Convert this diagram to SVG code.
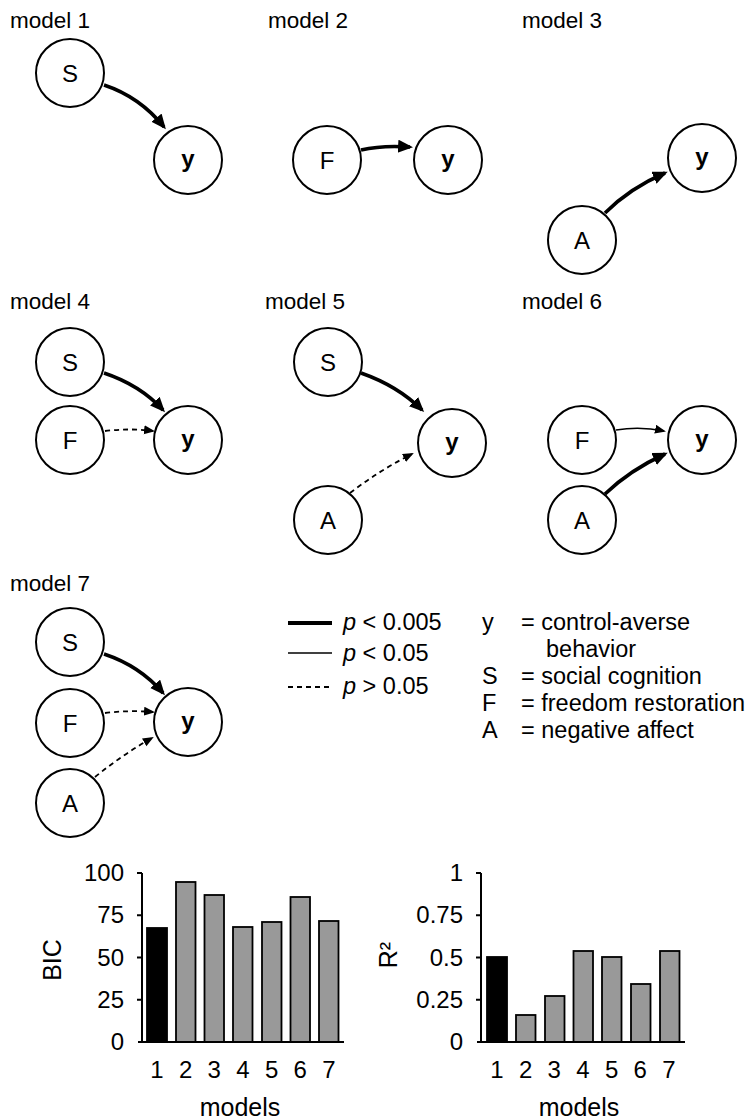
<svg xmlns="http://www.w3.org/2000/svg" width="748" height="1120" viewBox="0 0 748 1120">
<defs>
<style>
text{font-family:"Liberation Sans",Arial,Helvetica,sans-serif;fill:#000}
.lbl{font-size:22.5px}
.nd circle{fill:#fff;stroke:#000;stroke-width:2}
.nd text{font-size:24px;text-anchor:middle}
.yb{font-weight:bold}
.thick{fill:none;stroke:#000;stroke-width:3.6;marker-end:url(#ahk)}
.thin{fill:none;stroke:#000;stroke-width:1.6;marker-end:url(#ahn)}
.dash{fill:none;stroke:#000;stroke-width:1.8;stroke-dasharray:5 4;marker-end:url(#ahn)}
.tick{font-size:24px;text-anchor:end}
.xt{font-size:24px;text-anchor:middle}
.ttl{font-size:25px;text-anchor:middle}
.ax{stroke:#000;stroke-width:2;fill:none}
.bar{fill:#999;stroke:#000;stroke-width:1.8}
.barb{fill:#000;stroke:#000;stroke-width:1.8}
.leg{font-size:23.5px}
</style>
<marker id="ahk" markerUnits="userSpaceOnUse" markerWidth="16" markerHeight="14" refX="12" refY="6.5" orient="auto"><path d="M0,0 L15,6.5 L0,13 z" fill="#000"/></marker>
<marker id="ahn" markerUnits="userSpaceOnUse" markerWidth="12" markerHeight="10" refX="9" refY="4.5" orient="auto"><path d="M0,0 L11,4.5 L0,9 z" fill="#000"/></marker>
</defs>
<rect width="748" height="1120" fill="#fff"/>

<g id="titles">
<text class="lbl" x="10" y="28">model 1</text>
<text class="lbl" x="268" y="28">model 2</text>
<text class="lbl" x="522" y="28">model 3</text>
<text class="lbl" x="10" y="309">model 4</text>
<text class="lbl" x="265" y="309">model 5</text>
<text class="lbl" x="522" y="309">model 6</text>
<text class="lbl" x="10" y="591">model 7</text>
</g>

<g id="connectors">
<path class="thick" d="M104,85 Q140,97 164,127"/>
<path class="thick" d="M361,150 Q382,145 410,147"/>
<path class="thick" d="M605,213 Q630,188 665,173"/>
<path class="thick" d="M104,373 Q140,385 163,410"/>
<path class="dash" d="M105,431 Q130,428 153,431"/>
<path class="thick" d="M361,373 Q398,386 422,410"/>
<path class="dash" d="M350,493 Q380,470 412,454"/>
<path class="thin" d="M616,430 Q640,426 664,431"/>
<path class="thick" d="M605,494 Q630,470 665,454"/>
<path class="thick" d="M104,654 Q140,666 163,693"/>
<path class="dash" d="M105,713 Q130,710 153,712"/>
<path class="dash" d="M95,777 Q122,755 152,738"/>
</g>

<g id="m1-S" class="nd"><circle cx="70" cy="73" r="34"/><text x="70" y="82">S</text></g>
<g id="m1-y" class="nd"><circle cx="188" cy="160" r="34"/><text class="yb" x="188" y="167">y</text></g>

<g id="m2-F" class="nd"><circle cx="327" cy="160" r="34"/><text x="327" y="169">F</text></g>
<g id="m2-y" class="nd"><circle cx="448" cy="160" r="34"/><text class="yb" x="448" y="167">y</text></g>

<g id="m3-y" class="nd"><circle cx="702" cy="158" r="34"/><text class="yb" x="702" y="165">y</text></g>
<g id="m3-A" class="nd"><circle cx="582" cy="240" r="34"/><text x="582" y="249">A</text></g>

<g id="m4-S" class="nd"><circle cx="70" cy="362" r="34"/><text x="70" y="371">S</text></g>
<g id="m4-F" class="nd"><circle cx="70" cy="440" r="34"/><text x="70" y="449">F</text></g>
<g id="m4-y" class="nd"><circle cx="188" cy="440" r="34"/><text class="yb" x="188" y="447">y</text></g>

<g id="m5-S" class="nd"><circle cx="328" cy="362" r="34"/><text x="328" y="371">S</text></g>
<g id="m5-y" class="nd"><circle cx="452" cy="443" r="34"/><text class="yb" x="452" y="450">y</text></g>
<g id="m5-A" class="nd"><circle cx="328" cy="520" r="34"/><text x="328" y="529">A</text></g>

<g id="m6-F" class="nd"><circle cx="582" cy="440" r="34"/><text x="582" y="449">F</text></g>
<g id="m6-y" class="nd"><circle cx="702" cy="440" r="34"/><text class="yb" x="702" y="447">y</text></g>
<g id="m6-A" class="nd"><circle cx="582" cy="520" r="34"/><text x="582" y="529">A</text></g>

<g id="m7-S" class="nd"><circle cx="70" cy="642" r="34"/><text x="70" y="651">S</text></g>
<g id="m7-F" class="nd"><circle cx="70" cy="723" r="34"/><text x="70" y="732">F</text></g>
<g id="m7-y" class="nd"><circle cx="188" cy="722" r="34"/><text class="yb" x="188" y="729">y</text></g>
<g id="m7-A" class="nd"><circle cx="70" cy="803" r="34"/><text x="70" y="812">A</text></g>

<g id="legend-lines">
<line x1="288" y1="623" x2="332" y2="623" stroke="#000" stroke-width="4"/>
<line x1="288" y1="653" x2="332" y2="653" stroke="#000" stroke-width="1.6"/>
<line x1="288" y1="687" x2="332" y2="687" stroke="#000" stroke-width="1.8" stroke-dasharray="5 4"/>
<text class="leg" x="343" y="630"><tspan font-style="italic">p</tspan> &lt; 0.005</text>
<text class="leg" x="343" y="661"><tspan font-style="italic">p</tspan> &lt; 0.05</text>
<text class="leg" x="343" y="694"><tspan font-style="italic">p</tspan> &gt; 0.05</text>
</g>
<g id="legend-vars">
<text class="leg" x="482" y="630">y</text>
<text class="leg" x="521" y="630">= control-averse</text>
<text class="leg" x="546" y="657">behavior</text>
<text class="leg" x="482" y="684">S</text>
<text class="leg" x="521" y="684">= social cognition</text>
<text class="leg" x="482" y="711">F</text>
<text class="leg" x="521" y="711">= freedom restoration</text>
<text class="leg" x="482" y="738">A</text>
<text class="leg" x="521" y="738">= negative affect</text>
</g>

<g id="chart-bic">
<rect class="barb" x="147" y="928" width="20" height="114"/>
<rect class="bar" x="176" y="882" width="19.5" height="160"/>
<rect class="bar" x="204.5" y="895" width="19.5" height="147"/>
<rect class="bar" x="233" y="927" width="19.5" height="115"/>
<rect class="bar" x="262" y="922" width="19.5" height="120"/>
<rect class="bar" x="290.5" y="897" width="19.5" height="145"/>
<rect class="bar" x="319" y="921" width="19.5" height="121"/>
<path class="ax" d="M142,873 V1042 M138,1042 H344 M137,873 H142 M137,915.25 H142 M137,957.5 H142 M137,999.75 H142"/>
<text class="tick" x="124" y="881">100</text>
<text class="tick" x="124" y="923">75</text>
<text class="tick" x="124" y="966">50</text>
<text class="tick" x="124" y="1008">25</text>
<text class="tick" x="124" y="1050">0</text>
<text class="xt" x="157" y="1078">1</text>
<text class="xt" x="185.7" y="1078">2</text>
<text class="xt" x="214.3" y="1078">3</text>
<text class="xt" x="243" y="1078">4</text>
<text class="xt" x="271.7" y="1078">5</text>
<text class="xt" x="300.3" y="1078">6</text>
<text class="xt" x="329" y="1078">7</text>
<text class="ttl" x="240" y="1116">models</text>
<text class="ttl" transform="translate(61,960) rotate(-90)">BIC</text>
</g>

<g id="chart-r2">
<rect class="barb" x="487" y="957" width="20" height="85"/>
<rect class="bar" x="516" y="1015" width="19.5" height="27"/>
<rect class="bar" x="545" y="996" width="19.5" height="46"/>
<rect class="bar" x="573.5" y="951" width="19.5" height="91"/>
<rect class="bar" x="602" y="957" width="19.5" height="85"/>
<rect class="bar" x="631" y="984" width="19.5" height="58"/>
<rect class="bar" x="660" y="951" width="19.5" height="91"/>
<path class="ax" d="M481,873 V1042 M477,1042 H685 M476,873 H481 M476,915.25 H481 M476,957.5 H481 M476,999.75 H481"/>
<text class="tick" x="463" y="881">1</text>
<text class="tick" x="463" y="923">0.75</text>
<text class="tick" x="463" y="966">0.5</text>
<text class="tick" x="463" y="1008">0.25</text>
<text class="tick" x="463" y="1050">0</text>
<text class="xt" x="497" y="1078">1</text>
<text class="xt" x="525.7" y="1078">2</text>
<text class="xt" x="554.3" y="1078">3</text>
<text class="xt" x="583" y="1078">4</text>
<text class="xt" x="611.7" y="1078">5</text>
<text class="xt" x="640.3" y="1078">6</text>
<text class="xt" x="669" y="1078">7</text>
<text class="ttl" x="579" y="1116">models</text>
<text class="ttl" transform="translate(397,955) rotate(-90)">R²</text>
</g>
</svg>
